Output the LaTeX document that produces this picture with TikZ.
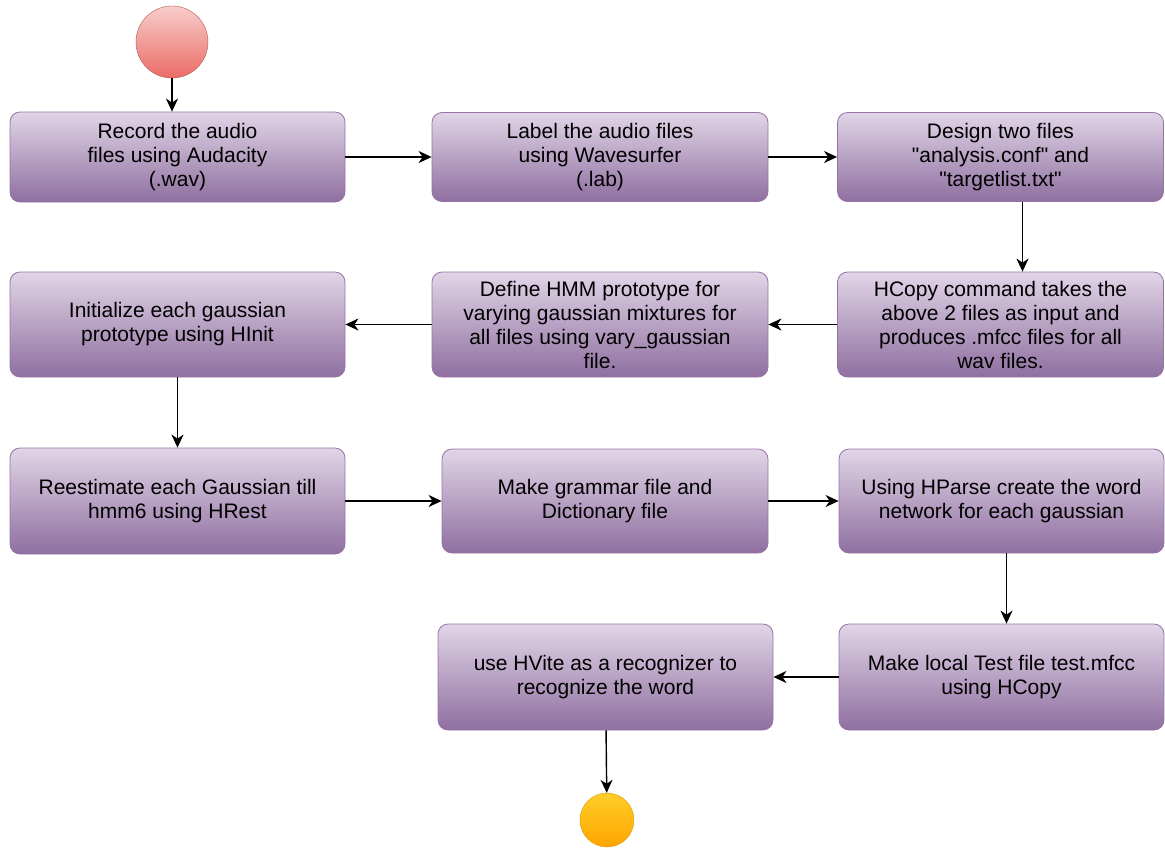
\documentclass[tikz,border=0pt]{standalone}
\usepackage{fontspec}
\setmainfont{Liberation Sans}[Ligatures=TeXOff]
\usepackage{tikz}
\usetikzlibrary{arrows.meta}

\definecolor{boxtop}{HTML}{E1D5E7}
\definecolor{boxbottom}{HTML}{8F6FA0}
\definecolor{boxline}{HTML}{9673A6}
\definecolor{starttop}{HTML}{F8CECC}
\definecolor{startbottom}{HTML}{EA6B66}
\definecolor{startline}{HTML}{B85450}
\definecolor{endtop}{HTML}{FFCD28}
\definecolor{endbottom}{HTML}{FFA500}
\definecolor{endline}{HTML}{D79B00}

\begin{document}
\begin{tikzpicture}[x=1pt,y=-1pt]
\tikzset{ActionStyle/.style = {
rectangle,
rounded corners = 10pt,
draw = boxline,
line width = 0.8pt,
top color = boxtop,
bottom color = boxbottom,
align = center,
inner sep = 0pt,
font = \fontsize{21}{24}\selectfont},
StartStyle/.style = {
circle,
draw = startline,
top color = starttop,
bottom color = startbottom,
minimum size = 72pt},
EndStyle/.style = {
circle,
draw = endline,
top color = endtop,
bottom color = endbottom,
minimum size = 54pt},
FlowStyle/.style = {
line width = 1.4pt,
-{Stealth[length=13pt,width=12pt,inset=4pt]}}}
\useasboundingbox (0,0) rectangle (1165,847);
\node[StartStyle] (S) at (172,42) {};
\node[ActionStyle,minimum width=335pt,minimum height=90pt] (A) at (177.5,157)
  {Record the audio\\files using Audacity\\(.wav)};
\node[ActionStyle,minimum width=336pt,minimum height=89pt] (B) at (600,157)
  {Label the audio files\\using Wavesurfer\\(.lab)};
\node[ActionStyle,minimum width=326pt,minimum height=89pt] (C) at (1000.5,157)
  {Design two files\\"analysis.conf" and\\"targetlist.txt"};
\node[ActionStyle,minimum width=326pt,minimum height=105pt] (D) at (1000.5,324.5)
  {HCopy command takes the\\above 2 files as input and\\produces .mfcc files for all\\wav files.};
\node[ActionStyle,minimum width=336pt,minimum height=105pt] (E) at (600,324.5)
  {Define HMM prototype for\\varying gaussian mixtures for\\all files using vary\_gaussian\\file.};
\node[ActionStyle,minimum width=335pt,minimum height=105pt] (F) at (177.5,324.5)
  {Initialize each gaussian\\prototype using HInit};
\node[ActionStyle,minimum width=335pt,minimum height=106pt] (G) at (177.5,501)
  {Reestimate each Gaussian till\\hmm6 using HRest};
\node[ActionStyle,minimum width=326pt,minimum height=104pt] (H) at (605,501)
  {Make grammar file and\\Dictionary file};
\node[ActionStyle,minimum width=325pt,minimum height=104pt] (I) at (1001.5,501)
  {Using HParse create the word\\network for each gaussian};
\node[ActionStyle,minimum width=325pt,minimum height=106pt] (J) at (1001.5,677)
  {Make local Test file test.mfcc\\using HCopy};
\node[ActionStyle,minimum width=335pt,minimum height=106pt] (K) at (605.5,677)
  {use HVite as a recognizer to\\recognize the word};
\node[EndStyle] (T) at (607,820) {};
\draw[FlowStyle] (S) -- (S |- A.north);
\draw[FlowStyle] (A) -- (B);
\draw[FlowStyle] (B) -- (C);
\draw[FlowStyle] ([xshift=22pt]C.south) -- ([xshift=22pt]D.north);
\draw[FlowStyle] (D) -- (E);
\draw[FlowStyle] (E) -- (F);
\draw[FlowStyle] (F) -- (G);
\draw[FlowStyle] (G) -- (H);
\draw[FlowStyle] (H) -- (I);
\draw[FlowStyle] ([xshift=5pt]I.south) -- ([xshift=5pt]J.north);
\draw[FlowStyle] (J) -- (K);
\draw[FlowStyle] (K) -- (T);
\end{tikzpicture}
\end{document}
